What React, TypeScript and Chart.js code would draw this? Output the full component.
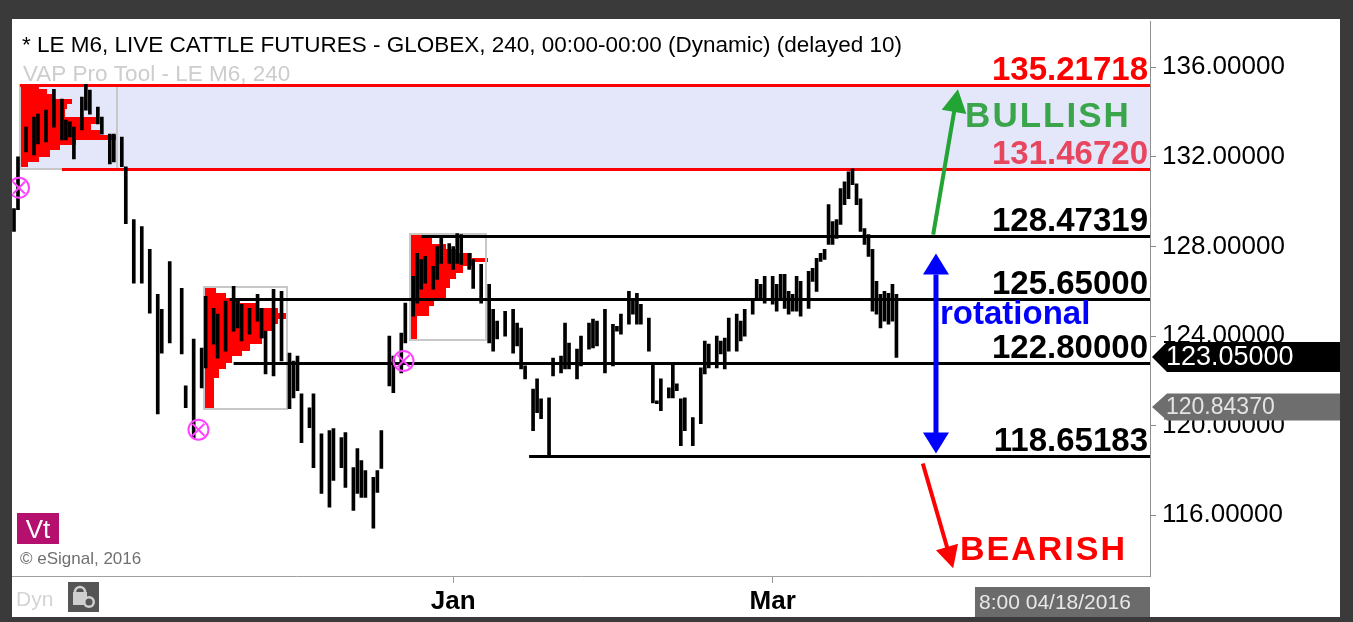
import React, { useEffect, useRef } from "react";
import { Chart, registerables } from "chart.js";

Chart.register(...registerables);

const FONT = '"Liberation Sans", Arial, Helvetica, sans-serif';

// ---- price bars (240-min bars), x = bar slot number ----
const barSlot = [
  0, 1, 3, 5, 6, 8, 10, 12, 13, 14,
  15, 17, 18, 19, 21, 22, 24, 25, 27, 28,
  30, 32, 34, 36, 37, 39, 42, 43, 45, 47,
  48, 50, 51, 53, 55, 56, 57, 59, 61, 62,
  63, 65, 67, 69, 70, 71, 72, 74, 75, 77,
  79, 80, 82, 83, 85, 86, 87, 88, 90, 91,
  92, 94, 95, 97, 98, 100, 101, 102, 103, 105,
  106, 107, 109, 110, 111, 112, 114, 115, 117, 119,
  120, 121, 123, 125, 126, 127, 128, 130, 131, 132,
  134, 135, 137, 138, 139, 141, 142, 144, 145, 146,
  148, 150, 151, 152, 154, 155, 156, 157, 159, 160,
  161, 162, 164, 165, 166, 167, 168, 170, 172, 173,
  174, 176, 177, 178, 179, 181, 182, 183, 185, 186,
  187, 188, 190, 191, 192, 193, 194, 195, 196, 197,
  199, 200, 201, 202, 203, 204, 205, 206, 207, 208,
  209, 210, 211, 212, 213, 214, 215, 216, 217, 218,
  219, 220, 221,
];
const barHigh = [
  129.69, 132.0, 133.33, 133.78, 133.91, 134.09, 135.02, 134.58, 133.64, 133.56,
  133.33, 134.67, 135.24, 134.98, 134.22, 133.78, 133.02, 133.02, 132.89, 131.56,
  129.2, 128.89, 127.87, 125.87, 125.2, 127.33, 126.13, 121.78, 123.87, 123.47,
  125.78, 125.24, 124.98, 125.56, 126.22, 125.69, 125.42, 125.24, 125.87, 125.24,
  124.22, 126.09, 126.0, 123.24, 122.89, 123.11, 121.42, 120.8, 121.42, 119.64,
  119.78, 119.87, 119.47, 119.69, 118.13, 118.98, 118.44, 118.0, 117.69, 118.0,
  119.78, 124.0, 123.11, 124.13, 125.47, 126.67, 127.69, 127.42, 127.56, 127.11,
  128.0, 128.36, 128.13, 128.0, 128.58, 128.53, 127.69, 127.42, 127.2, 126.31,
  125.2, 124.67, 125.11, 125.2, 124.58, 124.36, 122.67, 121.64, 122.09, 121.2,
  121.24, 123.02, 123.11, 124.58, 123.69, 123.42, 124.0, 124.58, 124.76, 124.67,
  125.2, 124.53, 124.44, 124.98, 126.0, 125.69, 125.91, 125.42, 124.8, 122.76,
  121.11, 122.09, 121.69, 122.76, 121.87, 121.2, 121.24, 120.36, 122.58, 123.78,
  123.64, 124.0, 123.78, 123.91, 124.8, 124.98, 124.67, 125.2, 125.69, 126.53,
  126.31, 126.67, 126.67, 126.31, 126.76, 126.76, 126.0, 125.87, 126.67, 126.44,
  126.89, 127.02, 127.47, 127.69, 127.87, 129.87, 129.11, 129.2, 130.58, 130.89,
  131.33, 131.47, 130.8, 130.13, 128.8, 128.53, 127.87, 126.44, 125.87, 126.0,
  125.91, 126.31, 125.87,
];
const barLow = [
  128.67, 129.64, 132.22, 132.09, 132.58, 132.67, 133.33, 132.76, 132.76, 132.89,
  131.91, 133.2, 134.09, 133.91, 133.47, 133.02, 131.69, 131.78, 131.56, 129.02,
  126.36, 126.36, 125.02, 120.53, 123.24, 123.69, 123.2, 120.8, 119.47, 121.69,
  122.58, 123.64, 123.02, 123.33, 124.22, 124.36, 123.78, 124.09, 124.67, 123.91,
  122.31, 122.22, 122.89, 120.76, 121.24, 121.56, 119.24, 119.91, 118.13, 116.98,
  116.36, 117.56, 118.13, 117.24, 116.22, 116.98, 116.8, 116.8, 115.42, 117.02,
  118.09, 121.78, 121.47, 122.36, 123.69, 124.89, 125.47, 126.09, 126.36, 126.09,
  126.53, 127.24, 127.24, 126.98, 127.24, 127.2, 126.98, 126.13, 125.47, 123.69,
  123.33, 123.87, 124.0, 123.24, 123.56, 122.53, 122.09, 119.78, 120.58, 120.31,
  118.65, 122.22, 122.36, 122.53, 122.53, 122.09, 122.67, 123.42, 123.47, 123.56,
  122.36, 122.67, 124.22, 124.09, 124.53, 124.98, 124.53, 124.53, 123.33, 121.02,
  120.98, 120.67, 121.24, 121.24, 121.56, 119.11, 119.78, 119.11, 120.09, 122.31,
  122.58, 122.58, 123.2, 122.53, 123.33, 123.33, 123.78, 124.0, 124.98, 125.64,
  125.69, 125.47, 125.42, 125.11, 125.69, 125.24, 124.98, 125.11, 125.11, 124.89,
  125.24, 126.44, 126.0, 127.33, 127.42, 128.09, 128.09, 128.36, 128.98, 129.87,
  130.13, 130.76, 129.87, 128.67, 128.09, 127.56, 125.11, 124.98, 124.36, 124.67,
  124.53, 124.67, 123.05,
];

// ---- axes ----
const yTickValues = [116, 120, 124, 128, 132, 136];
const yMin = 113.29;
const yMax = 138.04;
const xMin = -0.5;
const xMax = 284.5;
const monthTickSlots = [110, 190];
const monthTickLabels = ["Jan", "Mar"];

// ---- horizontal levels ----
const levelValues = [135.21718, 131.4672, 128.47319, 125.65, 122.8, 118.65183];
const levelLabels = ["135.21718", "131.46720", "128.47319", "125.65000", "122.80000", "118.65183"];
const levelStartSlots = [1.5, 12, 102, 54, 55, 129];
const levelLineColors = ["#ff0000", "#ff0000", "#000000", "#000000", "#000000", "#000000"];
const levelLabelColors = ["#ff0000", "#e8465e", "#000000", "#000000", "#000000", "#000000"];

// bullish zone band
const zoneBottom = 131.4672;
const zoneTop = 135.21718;
const zoneStartSlot = 1.5;

// ---- volume-at-price boxes ----
const boxStartSlots = [1.5, 47.6, 99.2];
const boxEndSlots = [25.8, 68.4, 118.2];
const boxHighs = [135.22, 126.18, 128.58];
const boxLows = [131.47, 120.76, 123.82];

const profile1Levels = [135.2, 135.02, 134.8, 134.58, 134.36, 134.13, 133.78, 133.47, 133.2, 132.98, 132.76, 132.53, 132.31, 132.0, 131.78, 131.56];
const profile1Volumes = [20, 28, 33, 54, 48, 46, 80, 73, 82, 100, 58, 41, 31, 20, 8];
const profile2Levels = [126.13, 125.91, 125.69, 125.47, 125.24, 125.02, 124.76, 124.53, 124.22, 123.91, 123.64, 123.33, 123.11, 122.8, 122.53, 122.13, 120.76];
const profile2Volumes = [15, 27, 43, 63, 89, 100, 89, 83, 76, 70, 55, 46, 34, 27, 18, 12];
const profile3Levels = [128.58, 128.36, 128.13, 127.91, 127.69, 127.47, 127.33, 127.11, 126.8, 126.53, 126.13, 125.69, 125.33, 124.89, 123.87];
const profile3Volumes = [16, 29, 47, 64, 81, 103, 81, 70, 60, 53, 47, 31, 25, 9];

// pivot markers
const pivotSlots = [1.25, 46.2, 97.55];
const pivotPrices = [130.62, 119.82, 122.89];

// price tags
const lastPrice = 123.05;
const lastPriceLabel = "123.05000";
const vapPrice = 120.8437;
const vapPriceLabel = "120.84370";

// arrows: [fromSlot, fromPrice, toSlot, toPrice]
const bullArrow = [230.2, 128.53, 236.4, 135.02];
const rangeArrow = [230.9, 127.69, 230.9, 118.76];
const bearArrow = [227.6, 118.31, 235.2, 113.64];

// texts
const titleText = "* LE M6, LIVE CATTLE FUTURES - GLOBEX, 240, 00:00-00:00 (Dynamic) (delayed 10)";
const subtitleText = "VAP Pro Tool - LE M6, 240";
const dateText = "8:00 04/18/2016";
const copyrightText = "\u00A9 eSignal, 2016";

function arrowHead(ctx: CanvasRenderingContext2D, tx: number, ty: number, ang: number, len: number, w: number) {
  const bx = tx - Math.cos(ang) * len;
  const by = ty - Math.sin(ang) * len;
  ctx.beginPath();
  ctx.moveTo(tx, ty);
  ctx.lineTo(bx + (Math.sin(ang) * w) / 2, by - (Math.cos(ang) * w) / 2);
  ctx.lineTo(bx - (Math.sin(ang) * w) / 2, by + (Math.cos(ang) * w) / 2);
  ctx.closePath();
  ctx.fill();
  return [bx, by];
}

function drawArrow(ctx: CanvasRenderingContext2D, x1: number, y1: number, x2: number, y2: number, color: string, lw: number, len: number, w: number, both: boolean) {
  ctx.fillStyle = color;
  ctx.strokeStyle = color;
  ctx.lineWidth = lw;
  const ang = Math.atan2(y2 - y1, x2 - x1);
  const [bx2, by2] = arrowHead(ctx, x2, y2, ang, len, w);
  let sx = x1;
  let sy = y1;
  if (both) {
    const [bx1, by1] = arrowHead(ctx, x1, y1, ang + Math.PI, len, w);
    sx = bx1;
    sy = by1;
  }
  ctx.beginPath();
  ctx.moveTo(sx, sy);
  ctx.lineTo(bx2 + Math.cos(ang) * 2, by2 + Math.sin(ang) * 2);
  ctx.stroke();
}

const overlayPlugin = {
  id: "overlay",
  beforeDraw(chart: any) {
    const { ctx, width, height } = chart;
    ctx.save();
    ctx.fillStyle = "#3a3a3a";
    ctx.fillRect(0, 0, width, height);
    ctx.fillStyle = "#ffffff";
    ctx.fillRect(12, 19, 1328, 598);
    ctx.restore();
  },
  beforeDatasetsDraw(chart: any) {
    const { ctx, chartArea: a, scales } = chart;
    const x = scales.x;
    const y = scales.y;
    ctx.save();
    ctx.beginPath();
    ctx.rect(a.left, a.top, a.right - a.left, a.bottom - a.top);
    ctx.clip();

    // zone
    const zx = Math.round(x.getPixelForValue(zoneStartSlot));
    const zt = Math.round(y.getPixelForValue(zoneTop));
    const zb = Math.round(y.getPixelForValue(zoneBottom));
    ctx.fillStyle = "#e4e6fa";
    ctx.fillRect(zx, zt, a.right - zx, zb - zt);

    // profiles
    const profiles = [
      [profile1Levels, profile1Volumes],
      [profile2Levels, profile2Volumes],
      [profile3Levels, profile3Volumes],
    ];
    ctx.fillStyle = "#ff0000";
    profiles.forEach(([lv, vol], k) => {
      const x0 = Math.round(x.getPixelForValue(boxStartSlots[k]));
      const x1 = Math.round(x.getPixelForValue(boxEndSlots[k]));
      for (let i = 0; i < vol.length; i++) {
        const yt = Math.round(y.getPixelForValue(lv[i]));
        const yb = Math.round(y.getPixelForValue(lv[i + 1]));
        ctx.fillRect(x0, yt, Math.round(((x1 - x0) * vol[i]) / 100), yb - yt);
      }
    });

    // boxes
    ctx.strokeStyle = "#c8c8c8";
    ctx.lineWidth = 2;
    for (let k = 0; k < boxStartSlots.length; k++) {
      const x0 = Math.round(x.getPixelForValue(boxStartSlots[k]));
      const x1 = Math.round(x.getPixelForValue(boxEndSlots[k]));
      const yt = Math.round(y.getPixelForValue(boxHighs[k]));
      const yb = Math.round(y.getPixelForValue(boxLows[k]));
      ctx.strokeRect(x0, yt, x1 - x0, yb - yt);
    }

    // level lines
    ctx.lineWidth = 3;
    levelValues.forEach((v, i) => {
      const py = Math.round(y.getPixelForValue(v)) + 0.5;
      ctx.strokeStyle = levelLineColors[i];
      ctx.beginPath();
      ctx.moveTo(x.getPixelForValue(levelStartSlots[i]), py);
      ctx.lineTo(a.right, py);
      ctx.stroke();
    });
    ctx.restore();
  },
  afterDatasetsDraw(chart: any) {
    const { ctx, chartArea: a, scales } = chart;
    const x = scales.x;
    const y = scales.y;
    ctx.save();
    ctx.beginPath();
    ctx.rect(a.left, a.top, a.right - a.left, a.bottom - a.top);
    ctx.clip();

    // pivot circles
    ctx.strokeStyle = "#ff44ff";
    ctx.lineWidth = 2;
    pivotSlots.forEach((s, i) => {
      const cx = x.getPixelForValue(s);
      const cy = y.getPixelForValue(pivotPrices[i]);
      ctx.beginPath();
      ctx.arc(cx, cy, 10, 0, Math.PI * 2);
      ctx.stroke();
      ctx.beginPath();
      ctx.moveTo(cx - 6, cy - 6);
      ctx.lineTo(cx + 6, cy + 6);
      ctx.moveTo(cx + 6, cy - 6);
      ctx.lineTo(cx - 6, cy + 6);
      ctx.stroke();
    });

    // title texts
    ctx.textBaseline = "alphabetic";
    ctx.textAlign = "left";
    ctx.fillStyle = "#000";
    ctx.font = `22.5px ${FONT}`;
    ctx.fillText(titleText, 22, 52);
    ctx.fillStyle = "#cdcdcd";
    ctx.font = `22.5px ${FONT}`;
    ctx.fillText(subtitleText, 23, 81);

    // level labels
    ctx.textAlign = "right";
    ctx.font = `bold 33px ${FONT}`;
    levelValues.forEach((v, i) => {
      ctx.fillStyle = levelLabelColors[i];
      ctx.fillText(levelLabels[i], a.right - 2, Math.round(y.getPixelForValue(v)) - 5);
    });

    // arrows
    drawArrow(ctx, x.getPixelForValue(bullArrow[0]), y.getPixelForValue(bullArrow[1]), x.getPixelForValue(bullArrow[2]), y.getPixelForValue(bullArrow[3]), "#22a535", 4, 23, 25, false);
    drawArrow(ctx, x.getPixelForValue(rangeArrow[0]), y.getPixelForValue(rangeArrow[1]), x.getPixelForValue(rangeArrow[2]), y.getPixelForValue(rangeArrow[3]), "#0000ff", 5, 21, 26, true);
    drawArrow(ctx, x.getPixelForValue(bearArrow[0]), y.getPixelForValue(bearArrow[1]), x.getPixelForValue(bearArrow[2]), y.getPixelForValue(bearArrow[3]), "#ff0000", 4, 22, 23, false);

    // scenario words
    ctx.textAlign = "left";
    (ctx as any).letterSpacing = "2px";
    ctx.fillStyle = "#3aa54a";
    ctx.font = `bold 35px ${FONT}`;
    ctx.fillText("BULLISH", x.getPixelForValue(238.2), y.getPixelForValue(133.33));
    ctx.fillStyle = "#ff0000";
    ctx.font = `bold 34px ${FONT}`;
    ctx.fillText("BEARISH", x.getPixelForValue(236.9), y.getPixelForValue(114.0));
    (ctx as any).letterSpacing = "0px";
    ctx.fillStyle = "#0000ff";
    ctx.font = `bold 33px ${FONT}`;
    ctx.fillText("rotational", x.getPixelForValue(231.9), y.getPixelForValue(124.53));

    // bottom-left badges
    ctx.fillStyle = "#b5106e";
    ctx.fillRect(17, 513, 42, 31);
    ctx.fillStyle = "#ffffff";
    ctx.font = `26px ${FONT}`;
    ctx.textAlign = "center";
    ctx.fillText("Vt", 38, 538);
    ctx.textAlign = "left";
    ctx.fillStyle = "#707070";
    ctx.font = `17px ${FONT}`;
    ctx.fillText(copyrightText, 20, 564);
    ctx.restore();
  },
  afterDraw(chart: any) {
    const { ctx, chartArea: a, scales } = chart;
    const y = scales.y;
    ctx.save();
    // price tags
    const drawTag = (v: number, label: string, fill: string, color: string, h: number, size: number) => {
      const yc = Math.round(y.getPixelForValue(v));
      ctx.fillStyle = fill;
      ctx.beginPath();
      ctx.moveTo(a.right + 2, yc);
      ctx.lineTo(a.right + 17, yc - h / 2);
      ctx.lineTo(1340, yc - h / 2);
      ctx.lineTo(1340, yc + h / 2);
      ctx.lineTo(a.right + 17, yc + h / 2);
      ctx.closePath();
      ctx.fill();
      ctx.fillStyle = color;
      ctx.font = `${size}px ${FONT}`;
      ctx.textAlign = "left";
      ctx.textBaseline = "middle";
      ctx.fillText(label, a.right + 16, yc + 1);
    };
    drawTag(vapPrice, vapPriceLabel, "#6e6e6e", "#e4e4e4", 27, 23);
    drawTag(lastPrice, lastPriceLabel, "#000000", "#ffffff", 30, 27);

    // date box
    ctx.fillStyle = "#6b6b6b";
    ctx.fillRect(975, 587, a.right - 975, 30);
    ctx.fillStyle = "#e8e8e8";
    ctx.font = `21px ${FONT}`;
    ctx.textBaseline = "middle";
    ctx.fillText(dateText, 979, 603);

    // Dyn + lock icon
    ctx.fillStyle = "#d4d4d4";
    ctx.font = `21px ${FONT}`;
    ctx.textBaseline = "alphabetic";
    ctx.fillText("Dyn", 16, 606);
    ctx.fillStyle = "#555555";
    ctx.fillRect(68, 582, 31, 30);
    ctx.strokeStyle = "#d0d0d0";
    ctx.lineWidth = 2.5;
    ctx.beginPath();
    ctx.arc(80, 592, 5, Math.PI, 0);
    ctx.stroke();
    ctx.fillStyle = "#d0d0d0";
    ctx.fillRect(73, 592, 14, 13);
    ctx.beginPath();
    ctx.arc(89, 602, 6, 0, Math.PI * 2);
    ctx.fill();
    ctx.fillStyle = "#555555";
    ctx.beginPath();
    ctx.arc(89, 602, 3.5, 0, Math.PI * 2);
    ctx.fill();
    ctx.restore();
  },
};

export default function App() {
  const ref = useRef<HTMLCanvasElement | null>(null);
  useEffect(() => {
    const canvas = ref.current;
    if (!canvas) return;
    const data = barSlot.map((s, i) => ({ x: s, y: [barLow[i], barHigh[i]] }));
    const chart = new Chart(canvas, {
      type: "bar",
      data: {
        datasets: [
          {
            data: data as any,
            backgroundColor: "#000000",
            borderWidth: 0,
            barThickness: 3,
          },
        ],
      },
      options: {
        animation: false,
        responsive: false,
        maintainAspectRatio: false,
        devicePixelRatio: 1,
        layout: { padding: { left: 12, top: 19, right: 13, bottom: 5 } },
        plugins: { legend: { display: false }, tooltip: { enabled: false } },
        scales: {
          x: {
            type: "linear",
            min: xMin,
            max: xMax,
            offset: false,
            afterBuildTicks: (s: any) => {
              s.ticks = monthTickSlots.map((v) => ({ value: v }));
            },
            afterFit: (s: any) => {
              s.height = 41;
            },
            ticks: {
              autoSkip: false,
              maxRotation: 0,
              padding: 3,
              color: "#000",
              font: { family: FONT, size: 26, weight: "bold" },
              callback: (_v: any, i: number) => monthTickLabels[i],
            },
            grid: { drawOnChartArea: false, tickLength: 7, color: "#999999", offset: false },
            border: { display: true, color: "#a0a0a0" },
          },
          y: {
            type: "linear",
            position: "right",
            min: yMin,
            max: yMax,
            afterBuildTicks: (s: any) => {
              s.ticks = yTickValues.map((v) => ({ value: v }));
            },
            afterFit: (s: any) => {
              s.width = 190;
            },
            ticks: {
              padding: 6,
              color: "#000",
              font: { family: FONT, size: 26 },
              callback: (v: any) => Number(v).toFixed(5),
            },
            grid: { drawOnChartArea: false, tickLength: 6, color: "#888888" },
            border: { display: true, color: "#909090" },
          },
        },
      } as any,
      plugins: [overlayPlugin],
    });
    return () => chart.destroy();
  }, []);
  return (
    <div style={{ position: "fixed", left: 0, top: 0, width: 1353, height: 622 }}>
      <canvas ref={ref} width={1353} height={622} style={{ display: "block", width: 1353, height: 622 }} />
    </div>
  );
}
